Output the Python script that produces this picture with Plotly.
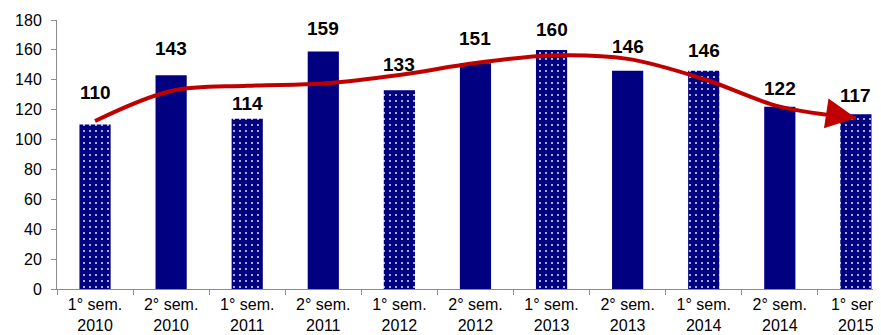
import plotly.graph_objects as go

categories = ["1° sem.<br>2010", "2° sem.<br>2010", "1° sem.<br>2011", "2° sem.<br>2011",
              "1° sem.<br>2012", "2° sem.<br>2012", "1° sem.<br>2013", "2° sem.<br>2013",
              "1° sem.<br>2014", "2° sem.<br>2014", "1° sem<br>2015"]
values = [110, 143, 114, 159, 133, 151, 160, 146, 146, 122, 117]
trend = [112.4, 132.5, 136.0, 137.5, 143.2, 151.2, 156.3, 154.0, 140.5, 122.0, 114.5]
y_ticks = [0, 20, 40, 60, 80, 100, 120, 140, 160, 180]

# style: pixel distance of each value label's centre above its bar
label_offset_px = [32, 27, 15, 23, 26, 25, 20, 24, 20, 18, 19]

NAVY = "#000080"
RED = "#C00000"

shapes = ["." if i % 2 == 0 else "" for i in range(len(values))]

fig = go.Figure()
fig.add_trace(go.Bar(
    x=categories, y=values,
    marker=dict(color=NAVY, line=dict(width=0),
                pattern=dict(shape=shapes, fgcolor="#dfe3f5", bgcolor=NAVY,
                             size=6, solidity=0.09, fillmode="replace")),
    width=0.41, hoverinfo="skip", showlegend=False,
))
fig.add_trace(go.Scatter(
    x=categories, y=trend, mode="lines",
    line=dict(color=RED, width=4, shape="spline", smoothing=1.0),
    hoverinfo="skip", showlegend=False,
))

# arrowhead at the end of the trend line
fig.add_annotation(
    x=categories[-1], y=trend[-1], xref="x", yref="y",
    ax=-26, ay=-4, showarrow=True, arrowhead=2, arrowsize=1.5,
    arrowwidth=4, arrowcolor=RED, text="",
)

for c, v, off in zip(categories, values, label_offset_px):
    fig.add_annotation(
        x=c, y=v, text=str(v), showarrow=False, yanchor="middle", yshift=off,
        font=dict(family="Arial, Liberation Sans", size=19, color="black", weight="bold"),
    )

fig.update_layout(
    width=873, height=327,
    margin=dict(l=49, r=0, t=12, b=46),
    paper_bgcolor="white", plot_bgcolor="white",
    font=dict(family="Arial, Liberation Sans", size=16, color="black"),
    xaxis=dict(
        type="category", range=[-0.5, 10.33], automargin=False,
        showline=True, linecolor="#8c8c8c", linewidth=1,
        ticks="outside", tickson="boundaries", ticklen=5, tickcolor="#8c8c8c",
        showgrid=False, tickfont=dict(size=16), ticklabelstandoff=1,
    ),
    yaxis=dict(
        range=[0, 180], tickvals=y_ticks, automargin=False,
        showline=True, linecolor="#8c8c8c", linewidth=1,
        ticks="outside", ticklen=5, tickcolor="#8c8c8c",
        showgrid=False, zeroline=False, tickfont=dict(size=16),
        ticklabelstandoff=6,
    ),
)

fig.write_html("out.html")
